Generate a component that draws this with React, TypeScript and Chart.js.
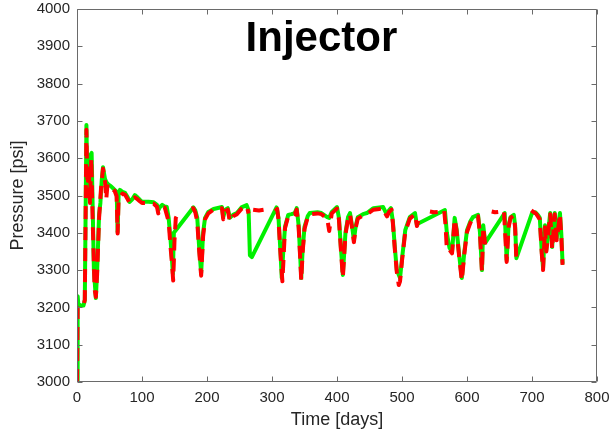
import React, { useEffect, useRef } from 'react';
import { Chart, registerables } from 'chart.js';

Chart.register(...registerables);

const xTicks = [0, 100, 200, 300, 400, 500, 600, 700, 800];
const yTicks = [3000, 3100, 3200, 3300, 3400, 3500, 3600, 3700, 3800, 3900, 4000];

const greenDays = [
  0, 1, 2, 5, 10, 12, 14.5, 16, 17, 19, 21, 22.5, 24, 26, 29, 31, 34, 36, 38, 40,
  43, 45, 48, 52, 55, 58, 61, 62.5, 64, 66, 70, 74, 78, 81, 85, 89, 93, 97, 100, 110,
  118, 123, 125, 128, 131, 135, 138, 141, 144, 146, 147.5, 149, 179, 182, 185, 188, 191, 194, 197, 202,
  210, 215, 223, 225, 228, 232, 235, 240, 246, 253, 261, 264, 266, 269, 307, 310, 313, 315, 317, 320,
  325, 330, 335, 338, 341, 343, 345, 347, 350, 355, 358, 370, 376, 385, 388, 392, 400, 403, 406, 409,
  413, 417, 420, 423, 426, 429, 432, 440, 446, 456, 465, 471, 475, 477, 480, 483, 486, 489, 492, 497,
  500, 505, 512, 520, 523, 525, 566, 569, 573, 577, 581, 584, 588, 592, 596, 600, 605, 609, 617, 620,
  623, 625, 628, 658, 661, 664, 667, 672, 674, 676, 700, 705, 709, 712, 715, 717, 720, 722, 728, 731,
  735, 738, 743, 745, 747,
];
const greenPsi = [
  3000, 3230, 3210, 3205, 3205, 3220, 3689, 3520, 3560, 3500, 3610, 3614, 3480, 3300, 3225, 3300, 3450, 3480, 3540, 3576,
  3545, 3536, 3530, 3525, 3520, 3515, 3510, 3402, 3500, 3515, 3510, 3507, 3495, 3483, 3490, 3501, 3495, 3488, 3483, 3483,
  3482, 3475, 3460, 3470, 3475, 3470, 3470, 3440, 3380, 3330, 3290, 3400, 3468, 3460, 3440, 3360, 3292, 3400, 3440, 3456,
  3464, 3466, 3469, 3442, 3462, 3466, 3440, 3448, 3453, 3468, 3474, 3460, 3340, 3335, 3468, 3440, 3350, 3279, 3340, 3416,
  3448, 3450, 3453, 3466, 3420, 3350, 3279, 3350, 3416, 3445, 3453, 3455, 3453, 3442, 3440, 3456, 3469, 3440, 3360, 3287,
  3400, 3442, 3453, 3420, 3381, 3420, 3442, 3450, 3453, 3466, 3468, 3469, 3455, 3448, 3460, 3466, 3430, 3360, 3300, 3279,
  3330, 3407, 3442, 3453, 3421, 3425, 3461, 3400, 3360, 3349, 3440, 3410, 3340, 3279, 3350, 3407, 3430, 3442, 3448, 3400,
  3300, 3420, 3373, 3453, 3327, 3420, 3442, 3448, 3420, 3332, 3453, 3455, 3448, 3440, 3350, 3306, 3420, 3354, 3453, 3362,
  3453, 3386, 3453, 3400, 3319,
];

const redDays = [
  0, 1, 3, 10, 12, 14.5, 16, 18, 20, 22, 24, 27, 29, 31, 34, 37, 40, 43, 45, 47,
  52, 58, 61, 62.5, 64, 70, 74, 78, 81, 85, 89, 93, 97, 100, 110, 118, 123, 125, 128, 135,
  141, 144, 146, 148, 150, 152, 155, 162, 166, 176, 179, 182, 185, 188, 191, 194, 197, 202, 210, 215,
  223, 225, 228, 232, 235, 240, 246, 253, 261, 264, 266, 271, 280, 287, 290, 305, 308, 310, 313, 316,
  318, 320, 325, 330, 335, 338, 341, 343, 345, 347, 350, 355, 358, 370, 376, 385, 388, 390, 392, 400,
  403, 406, 409, 413, 417, 420, 423, 426, 429, 432, 440, 446, 456, 465, 471, 475, 477, 480, 484, 486,
  489, 492, 495, 497, 500, 505, 512, 520, 523, 525, 528, 543, 549, 555, 558, 565, 567, 569, 573, 577,
  581, 584, 588, 592, 596, 600, 605, 609, 617, 620, 623, 625, 628, 630, 638, 643, 648, 651, 657, 661,
  664, 667, 672, 674, 676, 678, 699, 703, 706, 709, 712, 715, 717, 720, 722, 728, 731, 735, 738, 743,
  745, 747,
];
const redPsi = [
  3000, 3200, 3205, 3205, 3220, 3676, 3500, 3580, 3480, 3600, 3440, 3250, 3228, 3290, 3440, 3520, 3572, 3540, 3490, 3530,
  3522, 3512, 3498, 3398, 3492, 3505, 3502, 3490, 3480, 3486, 3495, 3490, 3484, 3480, 3480, 3478, 3470, 3452, 3465, 3468,
  3430, 3360, 3320, 3272, 3380, 3440, 3450, 3456, null, 3465, 3466, 3455, 3430, 3350, 3285, 3390, 3436, 3452, 3462, 3464,
  3466, 3436, 3458, 3462, 3430, 3444, 3450, 3464, 3472, 3452, null, 3462, 3460, 3462, null, 3458, 3464, 3435, 3345, 3270,
  3340, 3412, 3445, 3448, 3450, 3462, 3415, 3345, 3272, 3345, 3410, 3442, 3450, 3452, 3450, 3438, 3405, 3430, 3452, 3465,
  3435, 3355, 3280, 3395, 3438, 3450, 3415, 3375, 3415, 3438, 3446, 3450, 3462, 3464, 3466, 3450, 3444, 3456, 3462, 3425,
  3355, 3295, 3260, 3270, 3325, 3402, 3438, 3450, 3418, 3432, null, 3457, 3455, 3456, null, 3458, 3420, 3354, 3355, 3345,
  3436, 3405, 3335, 3272, 3345, 3402, 3426, 3438, 3444, 3395, 3296, 3415, 3368, null, 3457, 3455, 3456, null, 3455, 3322,
  3415, 3440, 3446, 3415, 3326, null, 3460, 3455, 3452, 3444, 3436, 3345, 3300, 3415, 3350, 3450, 3356, 3450, 3380, 3450,
  3395, 3314,
];

const FONT = '"Liberation Sans", Arial, Helvetica, sans-serif';

const boxPlugin = {
  id: 'boxTicks',
  afterDraw(chart: any) {
    const { ctx, chartArea } = chart;
    const { left, right, top, bottom } = chartArea;
    const xs = chart.scales.x;
    const ys = chart.scales.y;
    ctx.save();
    ctx.strokeStyle = '#6a6a6a';
    ctx.lineWidth = 1;
    const L = Math.round(left) + 0.5;
    const R = Math.round(right) - 0.5;
    const T = Math.round(top) + 0.5;
    const B = Math.round(bottom) - 0.5;
    ctx.beginPath();
    ctx.moveTo(L, T);
    ctx.lineTo(R, T);
    ctx.lineTo(R, B);
    ctx.lineTo(L, B);
    ctx.closePath();
    const tl = 5;
    xTicks.forEach((v) => {
      const px = Math.round(xs.getPixelForValue(v)) + 0.5;
      ctx.moveTo(px, B);
      ctx.lineTo(px, B - tl);
      ctx.moveTo(px, T);
      ctx.lineTo(px, T + tl);
    });
    yTicks.forEach((v) => {
      const py = Math.round(ys.getPixelForValue(v)) + 0.5;
      ctx.moveTo(L, py);
      ctx.lineTo(L + tl, py);
      ctx.moveTo(R, py);
      ctx.lineTo(R - tl, py);
    });
    ctx.stroke();

    ctx.fillStyle = '#000000';
    ctx.font = `bold 42px ${FONT}`;
    ctx.textAlign = 'center';
    ctx.textBaseline = 'alphabetic';
    ctx.fillText('Injector', left + 0.47 * (right - left), top + 42);
    ctx.restore();
  },
};

function zeroPad(scale: any) {
  scale.paddingLeft = 0;
  scale.paddingRight = 0;
  scale.paddingTop = 0;
  scale.paddingBottom = 0;
}

export default function App() {
  const ref = useRef<HTMLCanvasElement | null>(null);

  useEffect(() => {
    if (!ref.current) return;
    const green = greenDays.map((d, i) => ({ x: d, y: greenPsi[i] }));
    const red = redDays.map((d, i) => ({ x: d, y: redPsi[i] }));
    const chart = new Chart(ref.current, {
      type: 'line',
      data: {
        datasets: [
          {
            label: 'Red',
            data: red as any,
            borderColor: '#ff0000',
            borderWidth: 4,
            borderDash: [13, 8],
            borderJoinStyle: 'round',
            borderCapStyle: 'butt',
            pointRadius: 0,
            tension: 0,
            spanGaps: false,
            order: 0,
          },
          {
            label: 'Green',
            data: green as any,
            borderColor: '#00f000',
            borderWidth: 4,
            borderJoinStyle: 'round',
            borderCapStyle: 'round',
            pointRadius: 0,
            tension: 0,
            order: 1,
          },
        ],
      },
      options: {
        animation: false,
        responsive: false,
        maintainAspectRatio: false,
        events: [],
        layout: { padding: { top: 9, right: 16, left: 0, bottom: 0 } },
        plugins: {
          legend: { display: false },
          title: { display: false },
          tooltip: { enabled: false },
        },
        scales: {
          x: {
            type: 'linear',
            min: 0,
            max: 800,
            grid: { display: false, drawTicks: false },
            border: { display: false },
            ticks: {
              stepSize: 100,
              padding: 7,
              color: '#262626',
              font: { family: FONT, size: 15 },
              maxRotation: 0,
              callback: (v: any) => String(v),
            },
            title: {
              display: true,
              text: 'Time [days]',
              color: '#262626',
              font: { family: FONT, size: 18 },
              padding: { top: 0, bottom: 2 },
            },
            afterFit(scale: any) {
              scale.height = 51;
              zeroPad(scale);
            },
          },
          y: {
            type: 'linear',
            min: 3000,
            max: 4000,
            grid: { display: false, drawTicks: false },
            border: { display: false },
            ticks: {
              stepSize: 100,
              padding: 7,
              color: '#262626',
              font: { family: FONT, size: 15 },
              callback: (v: any) => String(v),
            },
            title: {
              display: true,
              text: 'Pressure [psi]',
              color: '#262626',
              font: { family: FONT, size: 18 },
              padding: { top: 7, bottom: 0 },
            },
            afterFit(scale: any) {
              scale.width = 77;
              zeroPad(scale);
            },
          },
        },
      },
      plugins: [boxPlugin],
    });
    return () => chart.destroy();
  }, []);

  return (
    <div style={{ position: 'fixed', left: 0, top: 0, width: 613, height: 433, background: '#ffffff' }}>
      <canvas ref={ref} width={613} height={433} style={{ width: 613, height: 433, display: 'block' }} />
    </div>
  );
}
